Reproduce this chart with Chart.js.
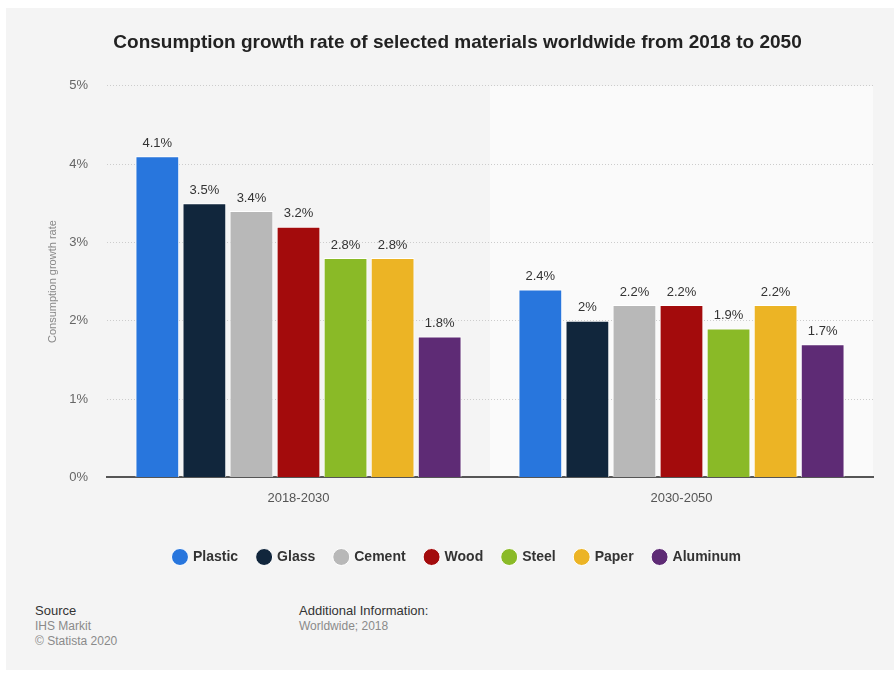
<!DOCTYPE html>
<html>
<head>
<meta charset="utf-8">
<script src="https://cdn.jsdelivr.net/npm/chart.js@4.4.1/dist/chart.umd.min.js"></script>
<style>
  html, body { margin: 0; padding: 0; background: #fff; }
  body { width: 895px; height: 673px; position: relative; overflow: hidden; font-family: 'Liberation Sans', Arial, sans-serif; }
  #panel { position: absolute; left: 6px; top: 8px; width: 888px; height: 662px; background: #f4f4f4; }
  #chart { position: absolute; left: 0; top: 0; }
  .foot { position: absolute; font-size: 12px; line-height: 15px; color: #8a8a8a; }
  .foot b { font-weight: normal; color: #333; font-size: 13px; }
</style>
</head>
<body>
<div id="panel"></div>
<canvas id="chart" width="895" height="574"></canvas>
<div class="foot" style="left:35px; top:603px;"><b>Source</b><br>IHS Markit<br>© Statista 2020</div>
<div class="foot" style="left:299px; top:603px;"><b>Additional Information:</b><br>Worldwide; 2018</div>
<script>
// periods on the x axis
const periods = ['2018-2030', '2030-2050'];

// growth rate per material, in percent
const plastic = [4.1, 2.4];
const glass = [3.5, 2.0];
const cement = [3.4, 2.2];
const wood = [3.2, 2.2];
const steel = [2.8, 1.9];
const paper = [2.8, 2.2];
const aluminum = [1.8, 1.7];

const materials = ['Plastic', 'Glass', 'Cement', 'Wood', 'Steel', 'Paper', 'Aluminum'];
const seriesValues = [plastic, glass, cement, wood, steel, paper, aluminum];
const yTicks = [0, 1, 2, 3, 4, 5];

const palette = ['#2876dd', '#11263c', '#b8b8b8', '#a30b0c', '#8aba27', '#ecb425', '#5e2b75'];

const FONT = "'Liberation Sans', Arial, sans-serif";

// lighter band behind the second period
const bandPlugin = {
  id: 'band',
  beforeDraw(chart) {
    const { ctx, chartArea, scales } = chart;
    const x0 = (scales.x.getPixelForTick(0) + scales.x.getPixelForTick(1)) / 2;
    ctx.save();
    ctx.fillStyle = '#fafafa';
    ctx.fillRect(x0, chartArea.top, chartArea.right - x0, chartArea.bottom - chartArea.top);
    ctx.restore();
  }
};

// value text above each bar
const valueLabels = {
  id: 'valueLabels',
  afterDatasetsDraw(chart) {
    const { ctx } = chart;
    ctx.save();
    ctx.font = '13px ' + FONT;
    ctx.fillStyle = '#333';
    ctx.textAlign = 'center';
    ctx.textBaseline = 'middle';
    chart.data.datasets.forEach((ds, i) => {
      chart.getDatasetMeta(i).data.forEach((bar, j) => {
        ctx.fillText(ds.data[j] + '%', bar.x, bar.y - 13);
      });
    });
    ctx.restore();
  }
};

new Chart(document.getElementById('chart'), {
  type: 'bar',
  data: {
    labels: periods,
    datasets: materials.map((name, i) => ({
      label: name,
      data: seriesValues[i],
      backgroundColor: palette[i],
      borderColor: '#ffffff',
      borderWidth: 1,
      categoryPercentage: 0.86,
      barPercentage: 0.93
    }))
  },
  options: {
    responsive: false,
    devicePixelRatio: 1,
    animation: false,
    layout: { padding: { left: 42, right: 22, top: 0, bottom: 0 } },
    scales: {
      x: {
        grid: { display: false },
        border: { color: '#555', width: 2 },
        ticks: { color: '#555', font: { family: FONT, size: 13 }, padding: 5 },
        afterFit(scale) { scale.height += 19; }
      },
      y: {
        min: 0,
        max: 5,
        afterBuildTicks(scale) {
          scale.ticks = yTicks.map(v => ({ value: v }));
        },
        afterFit(scale) { scale.width = 65; },
        grid: {
          drawTicks: false,
          color: c => (c.tick && c.tick.value === 0) ? 'transparent' : '#cccccc',
          lineWidth: 1
        },
        border: { display: false, dash: [1, 2] },
        ticks: {
          color: '#666',
          padding: 19,
          font: { family: FONT, size: 13 },
          callback: v => v + '%'
        },
        title: {
          display: true,
          text: 'Consumption growth rate',
          color: '#888',
          font: { family: FONT, size: 11 }
        }
      }
    },
    plugins: {
      title: {
        display: true,
        text: 'Consumption growth rate of selected materials worldwide from 2018 to 2050',
        color: '#222',
        font: { family: FONT, size: 19, weight: 'bold' },
        padding: { top: 31, bottom: 32 }
      },
      legend: {
        position: 'bottom',
        labels: {
          usePointStyle: true,
          pointStyle: 'circle',
          boxWidth: 12,
          boxHeight: 12,
          padding: 20,
          color: '#333',
          font: { family: FONT, size: 14, weight: 'bold' }
        }
      },
      tooltip: { enabled: false }
    }
  },
  plugins: [bandPlugin, valueLabels]
});
</script>
</body>
</html>
